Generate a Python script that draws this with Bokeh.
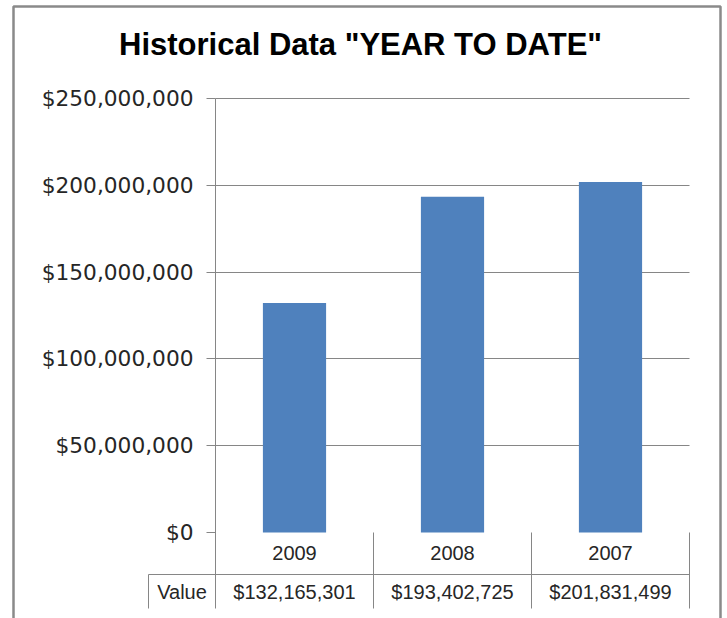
from bokeh.plotting import figure
from bokeh.models import (Range1d, FixedTicker, NumeralTickFormatter, Label,
                          ColumnDataSource)
from bokeh.core.properties import value
from bokeh.embed import file_html
from bokeh.resources import INLINE

# ---- data ----
categories = ["2009", "2008", "2007"]
values = [132165301, 193402725, 201831499]
y_ticks = [0, 50000000, 100000000, 150000000, 200000000, 250000000]
row_header = "Value"
title_text = 'Historical Data "YEAR TO DATE"'

# ---- layout: pixel geometry of the chart ----
W, H = 727, 618
BOX_L, BOX_T, BOX_R, BOX_B = 13, 6, 720, 625      # outer chart border (bottom cut off)
PA_L, PA_T, PA_B = 215, 98, 532                   # plot area left / top / zero line
CAT_PX = 158.0                                    # width of one category
Y_MAX = 250000000
k = Y_MAX / float(PA_B - PA_T)                    # data units per pixel

def X(px):   # page x -> data x (category i spans [i, i+1])
    return (px - PA_L) / CAT_PX
def Y(py):   # page y -> data y
    return (PA_B - py) * k

n = len(categories)
centers = [i + 0.5 for i in range(n)]
y_lo = Y(608)          # bottom of data table
row_cat = Y(552)       # category row centre
row_val = Y(591)       # value row centre
row_sep = Y(574)       # line between the two rows
hx = X(148)            # left edge of the "Value" header cell

GRID = "#868686"
TXT = "#262626"

p = figure(width=W, height=H,
           x_range=Range1d(X(0), X(W)),
           y_range=Range1d(Y(H), Y(0)),
           output_backend="svg", toolbar_location=None,
           x_axis_location=None, min_border=0)
p.outline_line_color = None
p.background_fill_color = "white"
p.border_fill_color = "white"

# y axis drawn at the plot area's left edge
ya = p.yaxis[0]
ya.fixed_location = 0
ya.bounds = (y_lo, Y_MAX)
ya.ticker = FixedTicker(ticks=y_ticks)
ya.formatter = NumeralTickFormatter(format="$0,0")
ya.major_label_text_font = "DejaVu Sans"
ya.major_label_text_font_size = "21.7px"
ya.major_label_text_color = TXT
ya.axis_line_color = GRID
ya.major_tick_line_color = GRID
ya.major_tick_out = 9
ya.major_tick_in = 0
ya.minor_tick_line_color = None
ya.major_label_standoff = 13

p.xgrid.grid_line_color = None
p.ygrid.ticker = FixedTicker(ticks=y_ticks[1:])
p.ygrid.grid_line_color = GRID
p.ygrid.grid_line_width = 1
try:
    p.ygrid.cross_bounds = (0, n)
except Exception:
    p.ygrid.grid_line_color = None
    p.segment(x0=0, x1=n, y0=y_ticks[1:], y1=y_ticks[1:], line_color=GRID)

# bars
src = ColumnDataSource(dict(x=centers, cat=categories, val=values,
                            lab=["${:,}".format(v) for v in values]))
p.vbar(x="x", top="val", width=0.4, source=src,
       fill_color="#4F81BD", line_color=None)

# data table lines
bounds = list(range(1, n + 1))
p.segment(x0=bounds, x1=bounds, y0=[0] * n, y1=[y_lo] * n,
          line_color=GRID, line_width=1)
p.segment(x0=[hx, hx], x1=[n, hx], y0=[row_sep, row_sep], y1=[row_sep, y_lo],
          line_color=GRID, line_width=1)

# data table texts
p.text(x="x", y=row_cat, text="cat", source=src,
       text_align="center", text_baseline="middle",
       text_font=value("Liberation Sans"), text_font_size="20px", text_color=TXT)
p.text(x="x", y=row_val, text="lab", source=src,
       text_align="center", text_baseline="middle",
       text_font=value("Liberation Sans"), text_font_size="20px", text_color=TXT)
p.add_layout(Label(x=(hx + 0) / 2, y=row_val, text=row_header,
                   text_align="center", text_baseline="middle",
                   text_font="Liberation Sans", text_font_size="20px",
                   text_color=TXT))

# chart title
p.add_layout(Label(x=X(360), y=Y(44), text=title_text,
                   text_align="center", text_baseline="middle",
                   text_font="Liberation Sans", text_font_style="bold",
                   text_font_size="31px", text_color="black"))

# outer chart border (left, top, right sides; bottom lies below the picture)
p.line(x=[X(BOX_L), X(BOX_L), X(BOX_R), X(BOX_R)],
       y=[Y(BOX_B), Y(BOX_T), Y(BOX_T), Y(BOX_B)],
       line_color="#8a8a8a", line_width=2.5)

open("out.html", "w").write(file_html(p, INLINE))
